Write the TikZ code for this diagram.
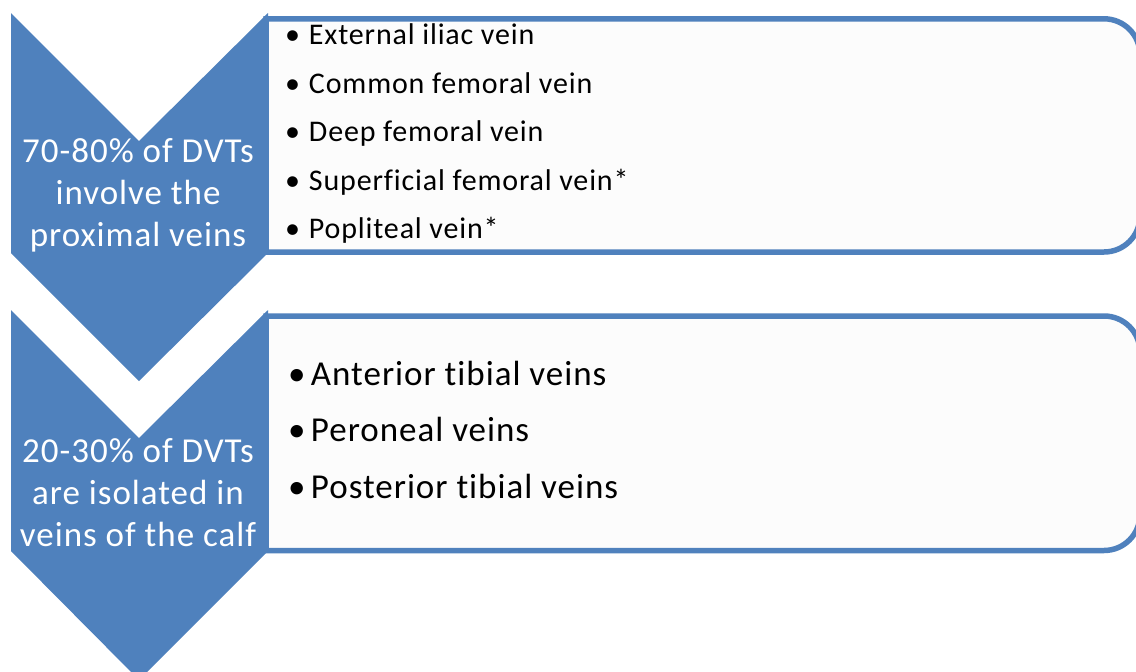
\documentclass[tikz,border=0pt]{standalone}
\usepackage{fontspec}
\setmainfont{Carlito}[LetterSpace=2.8, RawFeature={-liga}]
\usetikzlibrary{positioning}

\begin{document}
\begin{tikzpicture}[
    x=1pt, y=-1pt,
    every node/.style={inner sep=0pt, outer sep=0pt},
]

% ---------------------------------------------------------------- colours
\definecolor{c1}{HTML}{4F81BD}   % chevrons and panel outlines
\definecolor{c2}{HTML}{FCFCFC}   % panel fill

\tikzset{
    panel/.style={draw=c1, line width=5.5pt, fill=c2},
    chevron/.style={fill=c1},
    headtext/.style={text=white, align=center, font=\fontsize{35}{42}\selectfont},
    smallitem/.style={anchor=base west, text=black, font=\fontsize{30}{34}\selectfont},
    largeitem/.style={anchor=base west, text=black, font=\fontsize{35}{40}\selectfont},
}

\useasboundingbox (0, 0) rectangle (1136, 672);
\clip (0, 0) rectangle (1136, 672);

\fill[white] (0, 0) rectangle (1136, 672);

% ================================================================
% Two rows: panel behind, chevron over its left end.
%   row shift = 297.5
% ================================================================

% ----------------------------------------------------------------------
% ROW 1: proximal veins
% ----------------------------------------------------------------------
\draw[panel] (266, 18.8) [rounded corners=36pt] -- (1140, 18.8) -- (1140, 252)
    [sharp corners] -- (266, 252) -- cycle;
\fill[chevron] (11, 13) -- (139, 141) -- (268, 13) -- (268, 253)
    -- (139, 381) -- (11, 253) -- cycle;

\node[headtext] (head1) at (138, 195) {70-80\% of DVTs\\involve the\\proximal veins};

\node[smallitem] (item1a) at (285, 44) {\makebox[24pt][l]{•}External iliac vein};
\node[smallitem] (item1b) at (285, 93) {\makebox[24pt][l]{•}Common femoral vein};
\node[smallitem] (item1c) at (285, 141.5) {\makebox[24pt][l]{•}Deep femoral vein};
\node[smallitem] (item1d) at (285, 190) {\makebox[24pt][l]{•}Superficial femoral vein*};
\node[smallitem] (item1e) at (285, 238) {\makebox[24pt][l]{•}Popliteal vein*};

% ----------------------------------------------------------------------
% ROW 2: veins of the calf
%   tip runs past the bottom edge and is cut off
% ----------------------------------------------------------------------
\draw[panel] (266, 316) [rounded corners=36pt] -- (1140, 316) -- (1140, 550.5)
    [sharp corners] -- (266, 550.5) -- cycle;
\fill[chevron] (11, 310) -- (139, 438) -- (268, 310) -- (268, 551)
    -- (139, 680) -- (11, 551) -- cycle;

\node[headtext] (head2) at (138, 493) {20-30\% of DVTs\\are isolated in\\veins of the calf};

\node[largeitem] (item2a) at (288, 385) {\makebox[23pt][l]{•}Anterior tibial veins};
\node[largeitem] (item2b) at (288, 441) {\makebox[23pt][l]{•}Peroneal veins};
\node[largeitem] (item2c) at (288, 498) {\makebox[23pt][l]{•}Posterior tibial veins};

\end{tikzpicture}
\end{document}
